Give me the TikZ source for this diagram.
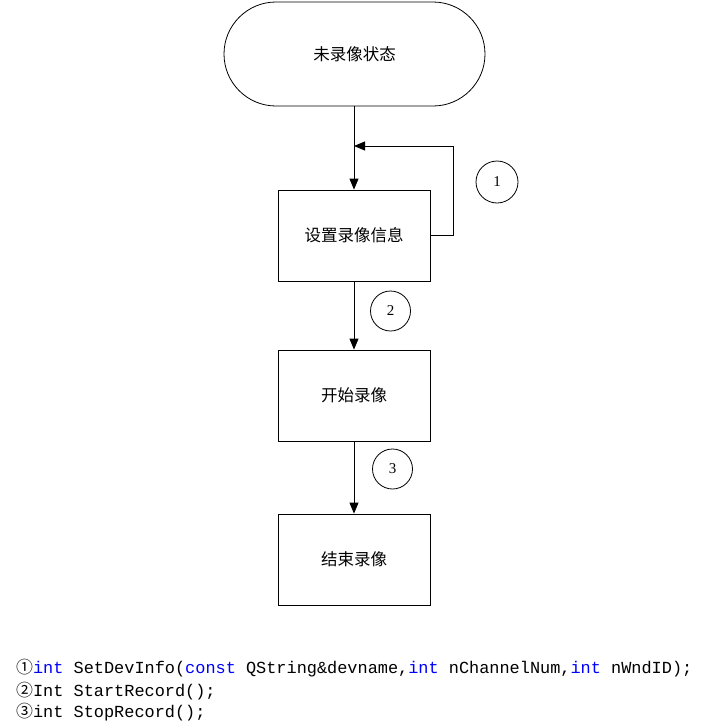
\documentclass[tikz,border=0pt]{standalone}
\usepackage{fontspec}
\setmainfont{Liberation Serif}
\setmonofont{Liberation Mono}
\newfontfamily\cjk{Noto Sans CJK SC}
\usetikzlibrary{arrows.meta,shapes.misc}
\definecolor{kw}{RGB}{0,0,255}
\begin{document}
\begin{tikzpicture}[x=1pt,y=-1pt,
  box/.style={draw,line width=0.8pt,minimum width=152pt,minimum height=91pt,inner sep=0pt,font=\cjk\fontsize{16.5}{19}\selectfont},
  term/.style={draw,line width=0.8pt,rounded rectangle,minimum width=261pt,minimum height=104pt,inner sep=0pt,font=\cjk\fontsize{16.5}{19}\selectfont},
  num/.style={draw,circle,line width=0.8pt,minimum size=42pt,inner sep=0pt,font=\fontsize{15}{17}\selectfont},
  arr/.style={line width=0.9pt,-{Triangle[length=11pt,width=9pt]}},
  code/.style={anchor=west,inner sep=0pt,font=\ttfamily\fontsize{16.9}{18}\selectfont}
]
\useasboundingbox (0,0) rectangle (704,723);
\node[term] (s) at (354.5,54) {未录像状态};
\node[box] (b1) at (354,235.5) {设置录像信息};
\node[box] (b2) at (354,395.5) {开始录像};
\node[box] (b3) at (354,559.5) {结束录像};
\node[num] (n1) at (497,182) {1};
\node[num, minimum size=40pt] (n2) at (390.5,311) {2};
\node[num, minimum size=40pt] (n3) at (392.5,469) {3};
\coordinate (lp) at (354,146);
\draw[arr] (s.south -| b1.north) -- (b1.north);
\draw[arr] (b1.east) -- ++(23,0) |- (lp);
\draw[arr] (b1.south) -- (b2.north);
\draw[arr] (b2.south) -- (b3.north);
\node[code] (c1) at (16,668) {{\cjk ①}\textcolor{kw}{int} SetDevInfo(\textcolor{kw}{const} QString\&devname,\textcolor{kw}{int} nChannelNum,\textcolor{kw}{int} nWndID);};
\node[code] (c2) at (16,691) {{\cjk ②}Int StartRecord();};
\node[code] (c3) at (16,712) {{\cjk ③}int StopRecord();};
\end{tikzpicture}
\end{document}
